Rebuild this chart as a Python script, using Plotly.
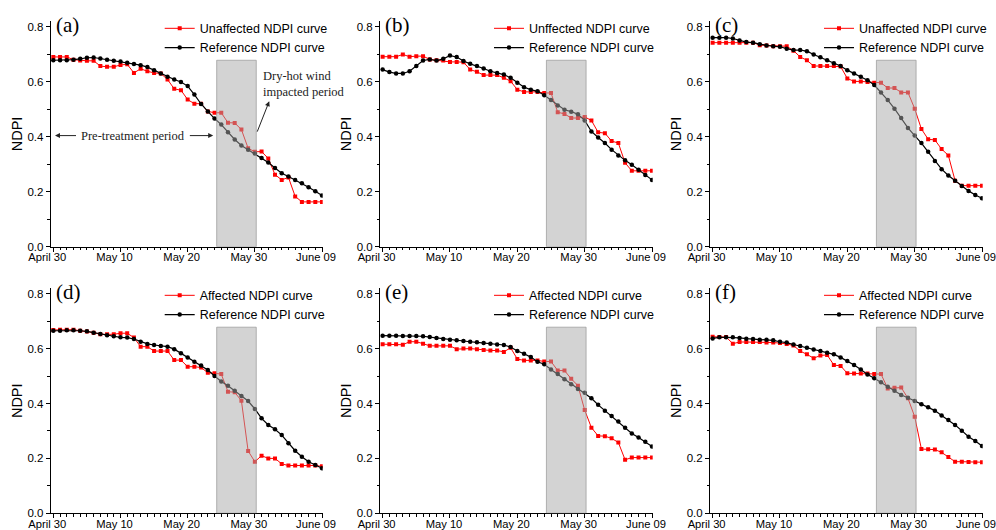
import plotly.graph_objects as go

# Day index 0 = April 30, 40 = June 09
days = list(range(41))
tick_days = [0, 10, 20, 30, 40]
tick_labels = ["April 30", "May 10", "May 20", "May 30", "June 09"]

# (a) unaffected plot vs reference
observed_a = [0.690, 0.690, 0.690, 0.680, 0.677, 0.676, 0.676, 0.657, 0.654, 0.654,
              0.661, 0.663, 0.632, 0.647, 0.638, 0.632, 0.630, 0.608, 0.574, 0.569,
              0.535, 0.520, 0.520, 0.492, 0.487, 0.487, 0.451, 0.450, 0.426, 0.358,
              0.345, 0.346, 0.321, 0.262, 0.243, 0.252, 0.183, 0.163, 0.163, 0.163, 0.163]
reference_a = [0.678, 0.678, 0.678, 0.680, 0.683, 0.687, 0.688, 0.684, 0.680, 0.676,
               0.673, 0.669, 0.664, 0.660, 0.653, 0.642, 0.630, 0.618, 0.608, 0.599,
               0.584, 0.553, 0.519, 0.492, 0.466, 0.444, 0.416, 0.390, 0.368, 0.353,
               0.339, 0.323, 0.306, 0.286, 0.267, 0.255, 0.243, 0.231, 0.216, 0.202, 0.186]

# (b) unaffected plot vs reference
observed_b = [0.691, 0.691, 0.691, 0.699, 0.691, 0.693, 0.693, 0.681, 0.678, 0.677,
              0.672, 0.672, 0.671, 0.644, 0.636, 0.624, 0.624, 0.624, 0.614, 0.602,
              0.571, 0.563, 0.563, 0.563, 0.559, 0.559, 0.489, 0.483, 0.468, 0.468,
              0.472, 0.459, 0.416, 0.413, 0.384, 0.377, 0.305, 0.276, 0.276, 0.276, 0.276]
reference_b = [0.644, 0.635, 0.630, 0.630, 0.638, 0.657, 0.677, 0.681, 0.677, 0.683,
               0.695, 0.690, 0.675, 0.665, 0.657, 0.648, 0.638, 0.632, 0.626, 0.614,
               0.596, 0.580, 0.571, 0.565, 0.551, 0.533, 0.513, 0.498, 0.491, 0.482,
               0.459, 0.419, 0.397, 0.377, 0.353, 0.332, 0.314, 0.298, 0.280, 0.261, 0.243]

# (c) unaffected plot vs reference
observed_c = [0.742, 0.742, 0.742, 0.742, 0.742, 0.742, 0.742, 0.733, 0.732, 0.729,
              0.729, 0.729, 0.713, 0.690, 0.678, 0.657, 0.657, 0.657, 0.657, 0.655,
              0.612, 0.601, 0.601, 0.599, 0.596, 0.596, 0.577, 0.577, 0.561, 0.561,
              0.502, 0.428, 0.391, 0.388, 0.355, 0.332, 0.240, 0.222, 0.222, 0.222, 0.222]
reference_c = [0.760, 0.760, 0.760, 0.757, 0.750, 0.744, 0.742, 0.736, 0.732, 0.729,
               0.727, 0.720, 0.715, 0.715, 0.711, 0.699, 0.689, 0.678, 0.667, 0.657,
               0.642, 0.630, 0.618, 0.605, 0.588, 0.561, 0.533, 0.502, 0.468, 0.432,
               0.404, 0.377, 0.345, 0.312, 0.282, 0.259, 0.240, 0.221, 0.203, 0.188, 0.176]

# (d) affected plot vs reference
observed_d = [0.668, 0.669, 0.669, 0.669, 0.665, 0.662, 0.658, 0.652, 0.652, 0.652,
              0.656, 0.656, 0.640, 0.607, 0.607, 0.591, 0.591, 0.591, 0.558, 0.558,
              0.534, 0.534, 0.531, 0.512, 0.510, 0.507, 0.443, 0.441, 0.410, 0.227,
              0.188, 0.210, 0.200, 0.200, 0.180, 0.174, 0.174, 0.174, 0.174, 0.174, 0.171]
reference_d = [0.665, 0.665, 0.667, 0.667, 0.665, 0.663, 0.658, 0.653, 0.649, 0.645,
               0.641, 0.640, 0.635, 0.625, 0.617, 0.613, 0.609, 0.607, 0.598, 0.583,
               0.568, 0.552, 0.538, 0.522, 0.500, 0.480, 0.465, 0.446, 0.427, 0.409,
               0.380, 0.346, 0.322, 0.306, 0.285, 0.255, 0.228, 0.206, 0.188, 0.176, 0.164]

# (e) affected plot vs reference
observed_e = [0.616, 0.616, 0.616, 0.614, 0.625, 0.625, 0.618, 0.610, 0.610, 0.610,
              0.610, 0.598, 0.600, 0.600, 0.598, 0.595, 0.593, 0.593, 0.588, 0.603,
              0.562, 0.557, 0.557, 0.557, 0.553, 0.553, 0.520, 0.520, 0.490, 0.465,
              0.376, 0.312, 0.282, 0.281, 0.273, 0.258, 0.195, 0.203, 0.203, 0.203, 0.203]
reference_e = [0.647, 0.647, 0.647, 0.646, 0.646, 0.646, 0.645, 0.642, 0.639, 0.635,
               0.632, 0.630, 0.628, 0.625, 0.623, 0.620, 0.618, 0.615, 0.613, 0.606,
               0.591, 0.581, 0.569, 0.552, 0.543, 0.524, 0.507, 0.488, 0.470, 0.453,
               0.439, 0.419, 0.395, 0.374, 0.354, 0.334, 0.312, 0.291, 0.276, 0.261, 0.243]

# (f) affected plot vs reference
observed_f = [0.643, 0.642, 0.642, 0.618, 0.624, 0.624, 0.624, 0.624, 0.622, 0.622,
              0.620, 0.617, 0.611, 0.591, 0.579, 0.565, 0.575, 0.577, 0.540, 0.537,
              0.510, 0.509, 0.509, 0.509, 0.507, 0.507, 0.455, 0.457, 0.458, 0.419,
              0.352, 0.234, 0.233, 0.232, 0.222, 0.205, 0.188, 0.188, 0.187, 0.186, 0.186]
reference_f = [0.637, 0.641, 0.641, 0.641, 0.639, 0.636, 0.635, 0.632, 0.632, 0.630,
               0.625, 0.622, 0.615, 0.609, 0.603, 0.597, 0.591, 0.585, 0.579, 0.568,
               0.555, 0.540, 0.524, 0.506, 0.492, 0.477, 0.461, 0.446, 0.431, 0.421,
               0.409, 0.397, 0.386, 0.374, 0.356, 0.340, 0.322, 0.301, 0.279, 0.263, 0.245]

panel_tags = ["(a)", "(b)", "(c)", "(d)", "(e)", "(f)"]
observed_names = ["Unaffected NDPI curve", "Unffected NDPI curve", "Unaffected NDPI curve",
                  "Affected NDPI curve", "Affected NDPI curve", "Affected NDPI curve"]
reference_name = "Reference NDPI curve"
observed_series = [observed_a, observed_b, observed_c, observed_d, observed_e, observed_f]
reference_series = [reference_a, reference_b, reference_c, reference_d, reference_e, reference_f]

# Dry-hot wind period window (day units) and its height
window_x = (24.32, 30.21)
window_top = 0.678

W, H = 996, 530
SANS = "Liberation Sans, Arial, sans-serif"
SERIF = "Liberation Serif, Times New Roman, serif"

x_domains = [(50.7, 322.7), (380.0, 652.7), (710.0, 982.7)]   # px
y_domains = [(21.2, 246.7), (288.2, 513.3)]                   # px, top/bottom

fig = go.Figure()
layout = dict(template="none", width=W, height=H, margin=dict(l=0, r=0, t=0, b=0),
              plot_bgcolor="white", paper_bgcolor="white", showlegend=True)
shapes, annotations = [], []

for i in range(6):
    n = i + 1
    row, col = divmod(i, 3)
    xa = "x" if n == 1 else f"x{n}"
    ya = "y" if n == 1 else f"y{n}"
    lg = "legend" if n == 1 else f"legend{n}"

    fig.add_trace(go.Scatter(
        x=days, y=observed_series[i], name=observed_names[i],
        xaxis=xa, yaxis=ya, legend=lg, mode="lines+markers",
        line=dict(color="#ff0000", width=1),
        marker=dict(symbol="square", size=4, color="#ff0000")))
    fig.add_trace(go.Scatter(
        x=days, y=reference_series[i], name=reference_name,
        xaxis=xa, yaxis=ya, legend=lg, mode="lines+markers",
        line=dict(color="#000000", width=1.2),
        marker=dict(symbol="circle", size=4.5, color="#000000")))

    x0, x1 = x_domains[col]
    ytop, ybot = y_domains[row]
    common = dict(showline=True, linecolor="black", linewidth=1, mirror=False,
                  showgrid=False, zeroline=False, automargin=False,
                  ticks="outside", ticklen=4, tickcolor="black", tickwidth=1)
    layout["xaxis" if n == 1 else f"xaxis{n}"] = dict(
        common, domain=[x0 / W, x1 / W], anchor=ya, range=[-0.39, 40.1],
        tickmode="array", tickvals=tick_days, ticktext=tick_labels,
        tickfont=dict(family=SANS, size=11.2, color="black"),
        ticklabelstandoff=-4, ticklabelshift=-6, ticklabeloverflow="allow",
        minor=dict(tickmode="linear", tick0=0, dtick=1, ticks="outside",
                   ticklen=2.5, tickcolor="black"))
    layout["yaxis" if n == 1 else f"yaxis{n}"] = dict(
        common, domain=[1 - ybot / H, 1 - ytop / H], anchor=xa, range=[0, 0.82],
        tickmode="linear", tick0=0, dtick=0.2, tickformat=".1f",
        tickfont=dict(family=SANS, size=11.5, color="black"),
        minor=dict(tickmode="linear", tick0=0, dtick=0.1, ticks="outside",
                   ticklen=2.5, tickcolor="black"),
        title=dict(text="NDPI", font=dict(family=SANS, size=14.5, color="black"),
                   standoff=1))

    layout[lg] = dict(x=(x0 + 109) / W, y=1 - (ytop - 7.5) / H, xanchor="left",
                      yanchor="top", bgcolor="rgba(0,0,0,0)", borderwidth=0,
                      itemwidth=30, font=dict(family=SANS, size=12.5, color="black"))

    shapes.append(dict(type="rect", xref=xa, yref=ya,
                       x0=window_x[0], x1=window_x[1], y0=0, y1=window_top,
                       fillcolor="rgba(168,168,168,0.5)",
                       line=dict(color="rgba(150,150,150,0.7)", width=1),
                       layer="above"))

    annotations.append(dict(text=panel_tags[i], xref="paper", yref="paper",
                            x=(x0 + 3) / W, y=1 - (ytop + 4) / H,
                            xanchor="left", yanchor="middle", showarrow=False,
                            font=dict(family=SERIF, size=21, color="black")))

# Explanatory notes in panel (a)
note_font = dict(family=SERIF, size=12.5, color="#222222")
annotations += [
    dict(text="Pre-treatment period", xref="x", yref="y", x=11.86, y=0.404,
         showarrow=False, font=note_font),
    dict(text="", xref="x", yref="y", x=0.25, y=0.404, ax=3.6, ay=0.404,
         axref="x", ayref="y", showarrow=True, arrowhead=2, arrowsize=1,
         arrowwidth=1, arrowcolor="#222222"),
    dict(text="", xref="x", yref="y", x=23.8, y=0.404, ax=20.1, ay=0.404,
         axref="x", ayref="y", showarrow=True, arrowhead=2, arrowsize=1,
         arrowwidth=1, arrowcolor="#222222"),
    dict(text="Dry-hot wind<br>impacted period", xref="x", yref="y",
         x=30.9, y=0.592, xanchor="left", yanchor="middle", align="left",
         showarrow=False, font=note_font),
    dict(text="", xref="x", yref="y", x=32.14, y=0.529, ax=30.27, ay=0.413,
         axref="x", ayref="y", showarrow=True, arrowhead=2, arrowsize=1,
         arrowwidth=1, arrowcolor="#222222"),
]

layout["shapes"] = shapes
layout["annotations"] = annotations
fig.update_layout(**layout)
fig.write_html("out.html")
